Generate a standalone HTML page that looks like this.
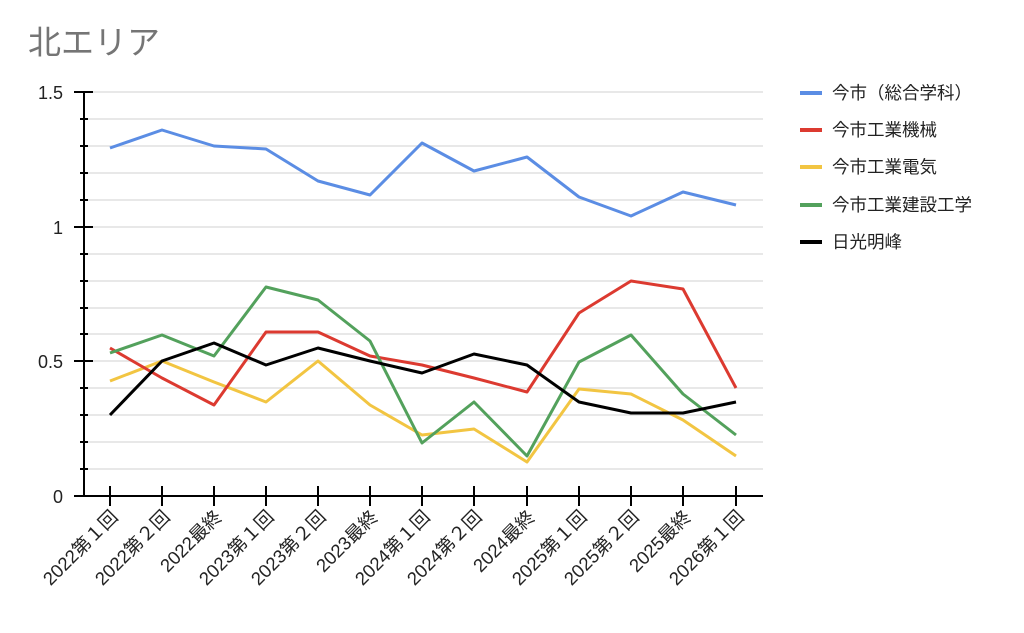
<!DOCTYPE html>
<html><head><meta charset="utf-8"><style>
body{margin:0;background:#fff;width:1024px;height:628px;overflow:hidden}
text{font-family:"Liberation Sans","Noto Sans CJK JP",sans-serif}
</style></head><body>
<svg width="1024" height="628" viewBox="0 0 1024 628">
<text x="28" y="54" font-size="33" fill="#757575">北エリア</text>
<g stroke="#e0e0e0" stroke-width="1.5">
<line x1="85" x2="763" y1="92" y2="92"/><line x1="85" x2="763" y1="119" y2="119"/><line x1="85" x2="763" y1="146" y2="146"/><line x1="85" x2="763" y1="173" y2="173"/><line x1="85" x2="763" y1="200" y2="200"/><line x1="85" x2="763" y1="227" y2="227"/><line x1="85" x2="763" y1="254" y2="254"/><line x1="85" x2="763" y1="281" y2="281"/><line x1="85" x2="763" y1="308" y2="308"/><line x1="85" x2="763" y1="334" y2="334"/><line x1="85" x2="763" y1="361" y2="361"/><line x1="85" x2="763" y1="388" y2="388"/><line x1="85" x2="763" y1="415" y2="415"/><line x1="85" x2="763" y1="442" y2="442"/><line x1="85" x2="763" y1="469" y2="469"/>
</g>
<g stroke="#000" stroke-width="2">
<line x1="84" x2="84" y1="91" y2="497"/><line x1="83" x2="763" y1="496" y2="496"/>
<line x1="74" x2="93" y1="92" y2="92"/><line x1="74" x2="93" y1="227" y2="227"/><line x1="74" x2="93" y1="361" y2="361"/><line x1="74" x2="93" y1="496" y2="496"/>
<line x1="80" x2="88" y1="119" y2="119"/><line x1="80" x2="88" y1="146" y2="146"/><line x1="80" x2="88" y1="173" y2="173"/><line x1="80" x2="88" y1="200" y2="200"/><line x1="80" x2="88" y1="254" y2="254"/><line x1="80" x2="88" y1="281" y2="281"/><line x1="80" x2="88" y1="308" y2="308"/><line x1="80" x2="88" y1="334" y2="334"/><line x1="80" x2="88" y1="388" y2="388"/><line x1="80" x2="88" y1="415" y2="415"/><line x1="80" x2="88" y1="442" y2="442"/><line x1="80" x2="88" y1="469" y2="469"/>
<line x1="110" x2="110" y1="486" y2="506"/><line x1="162" x2="162" y1="486" y2="506"/><line x1="214" x2="214" y1="486" y2="506"/><line x1="266" x2="266" y1="486" y2="506"/><line x1="318" x2="318" y1="486" y2="506"/><line x1="370" x2="370" y1="486" y2="506"/><line x1="422" x2="422" y1="486" y2="506"/><line x1="474" x2="474" y1="486" y2="506"/><line x1="527" x2="527" y1="486" y2="506"/><line x1="579" x2="579" y1="486" y2="506"/><line x1="631" x2="631" y1="486" y2="506"/><line x1="683" x2="683" y1="486" y2="506"/><line x1="736" x2="736" y1="486" y2="506"/>
</g>
<g font-size="18" fill="#222" text-anchor="end">
<text x="63" y="99">1.5</text><text x="63" y="234">1</text><text x="63" y="368">0.5</text><text x="63" y="503">0</text>
</g>
<g font-size="18.5" fill="#222" text-anchor="end">
<text transform="translate(119,518) rotate(-45)">2022第１回</text>
<text transform="translate(171,518) rotate(-45)">2022第２回</text>
<text transform="translate(223,518) rotate(-45)">2022最終</text>
<text transform="translate(275,518) rotate(-45)">2023第１回</text>
<text transform="translate(327,518) rotate(-45)">2023第２回</text>
<text transform="translate(379,518) rotate(-45)">2023最終</text>
<text transform="translate(431,518) rotate(-45)">2024第１回</text>
<text transform="translate(483,518) rotate(-45)">2024第２回</text>
<text transform="translate(536,518) rotate(-45)">2024最終</text>
<text transform="translate(588,518) rotate(-45)">2025第１回</text>
<text transform="translate(640,518) rotate(-45)">2025第２回</text>
<text transform="translate(692,518) rotate(-45)">2025最終</text>
<text transform="translate(745,518) rotate(-45)">2026第１回</text>
</g>
<g fill="none" stroke-width="3" stroke-linejoin="round">
<polyline stroke="#5b8de4" points="110,148 162,130 214,146 266,149 318,181 370,195 422,143 474,171 527,157 579,197 631,216 683,192 736,205"/>
<polyline stroke="#f2c542" points="110,381 162,361 214,382 266,402 318,361 370,405 422,435 474,429 527,462 579,389 631,394 683,420 736,456"/>
<polyline stroke="#dc3a30" points="110,348 162,378 214,405 266,332 318,332 370,356 422,365 474,378 527,392 579,313 631,281 683,289 736,388"/>
<polyline stroke="#53a15c" points="110,353 162,335 214,356 266,287 318,300 370,341 422,443 474,402 527,456 579,362 631,335 683,394 736,435"/>
<polyline stroke="#000" points="110,415 162,361 214,343 266,365 318,348 370,361 422,373 474,354 527,365 579,402 631,413 683,413 736,402"/>
</g>
<g stroke-width="4">
<line x1="800" x2="822" y1="93" y2="93" stroke="#5b8de4"/>
<line x1="800" x2="822" y1="130" y2="130" stroke="#dc3a30"/>
<line x1="800" x2="822" y1="167" y2="167" stroke="#f2c542"/>
<line x1="800" x2="822" y1="205" y2="205" stroke="#53a15c"/>
<line x1="800" x2="822" y1="242" y2="242" stroke="#000"/>
</g>
<g font-size="17.5" fill="#222">
<text x="832" y="99">今市（総合学科）</text>
<text x="832" y="136">今市工業機械</text>
<text x="832" y="173">今市工業電気</text>
<text x="832" y="211">今市工業建設工学</text>
<text x="832" y="248">日光明峰</text>
</g>
</svg>
</body></html>
